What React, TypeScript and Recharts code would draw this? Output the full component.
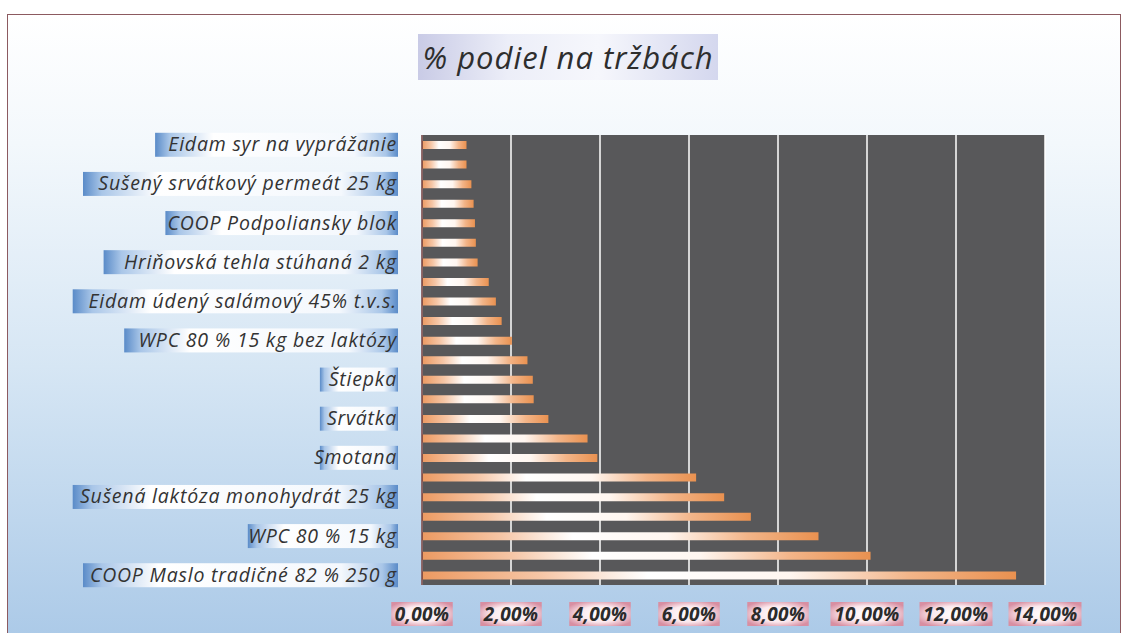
import { BarChart, Bar, XAxis, YAxis, CartesianGrid } from "recharts";

// product names, top to bottom (only every other one is printed on the axis)
const products = [
  "Eidam syr na vyprážanie",
  "Položka 2",
  "Sušený srvátkový permeát 25 kg",
  "Položka 4",
  "COOP Podpoliansky blok",
  "Položka 6",
  "Hriňovská tehla stúhaná 2 kg",
  "Položka 8",
  "Eidam údený salámový 45% t.v.s.",
  "Položka 10",
  "WPC 80 % 15 kg bez laktózy",
  "Položka 12",
  "Štiepka",
  "Položka 14",
  "Srvátka",
  "Položka 16",
  "Smotana",
  "Položka 18",
  "Sušená laktóza monohydrát 25 kg",
  "Položka 20",
  "WPC 80 % 15 kg",
  "Položka 22",
  "COOP Maslo tradičné 82 % 250 g",
];

// % share of sales
const share = [
  1.0, 1.0, 1.11, 1.16, 1.19, 1.21, 1.25, 1.5, 1.66, 1.79, 2.02, 2.37,
  2.49, 2.51, 2.84, 3.72, 3.94, 6.16, 6.79, 7.39, 8.91, 10.08, 13.35,
];

const xTicks = [0, 2, 4, 6, 8, 10, 12, 14];

const data = products.map((name, i) => ({ name, share: share[i] }));

const FONT = "'Open Sans', Lato, sans-serif";

const YTick = (props: any) => {
  const { x, y, payload } = props;
  const label = String(payload.value);
  const w = label.length * 10.3 + 6;
  return (
    <g transform={`translate(${x},${y})`}>
      <rect x={-w - 16} y={-12} width={w} height={24} fill="url(#labelGrad)" />
      <text
        x={-17}
        y={0}
        dy={6.5}
        textAnchor="end"
        fontFamily={FONT}
        fontStyle="italic"
        fontSize={19.5}
        letterSpacing={0.8}
        fill="#333"
      >
        {label}
      </text>
    </g>
  );
};

const XTick = (props: any) => {
  const { x, y, payload } = props;
  const label = payload.value.toFixed(2).replace(".", ",") + "%";
  const w = label.length * 11.5 + 4;
  return (
    <g transform={`translate(${x},${y})`}>
      <rect x={-w / 2} y={9} width={w} height={24} fill="url(#tickGrad)" />
      <text
        x={0}
        y={21}
        dy={7}
        textAnchor="middle"
        fontFamily={FONT}
        fontStyle="italic"
        fontWeight={700}
        fontSize={19}
        letterSpacing={0.3}
        fill="#2b2b2b"
      >
        {label}
      </text>
    </g>
  );
};

export default function App() {
  return (
    <div style={{ position: "absolute", left: 0, top: 0, width: 1128, height: 633, background: "#fff", overflow: "hidden" }}>
      {/* framed panel with the white-to-blue fill */}
      <div
        style={{
          position: "absolute",
          left: 7,
          top: 14,
          width: 1112,
          height: 640,
          border: "1.5px solid #8c5a60",
          background: "linear-gradient(to bottom, #ffffff 0%, #f3f8fc 20%, #d6e6f4 55%, #a9c8e7 100%)",
        }}
      />
      <div style={{ position: "absolute", left: 0, top: 0 }}>
        <BarChart
          width={1128}
          height={633}
          layout="vertical"
          data={data}
          margin={{ top: 135, right: 83, bottom: 8, left: 0 }}
          barCategoryGap={0}
        >
          <defs>
            <linearGradient id="barGrad" x1="0" y1="0" x2="1" y2="0">
              <stop offset="0%" stopColor="#ec9a62" />
              <stop offset="20%" stopColor="#f6c6a6" />
              <stop offset="38%" stopColor="#ffffff" />
              <stop offset="62%" stopColor="#fff6f0" />
              <stop offset="82%" stopColor="#f3b589" />
              <stop offset="100%" stopColor="#e99150" />
            </linearGradient>
            <linearGradient id="labelGrad" x1="0" y1="0" x2="1" y2="0">
              <stop offset="0%" stopColor="#5a8bc8" />
              <stop offset="6%" stopColor="#a9c6e8" />
              <stop offset="24%" stopColor="#ffffff" />
              <stop offset="82%" stopColor="#f4f8fd" />
              <stop offset="95%" stopColor="#a9c6e8" />
              <stop offset="100%" stopColor="#5a8bc8" />
            </linearGradient>
            <radialGradient id="tickGrad" cx="50%" cy="50%" r="60%">
              <stop offset="0%" stopColor="#ffffff" />
              <stop offset="55%" stopColor="#fbe9ee" />
              <stop offset="100%" stopColor="#d88fa2" />
            </radialGradient>
          </defs>
          <CartesianGrid horizontal={false} stroke="#ffffff" strokeWidth={1.5} fill="#58585a" fillOpacity={1} />
          <XAxis
            type="number"
            domain={[0, 14]}
            ticks={xTicks}
            axisLine={false}
            tickLine={false}
            height={40}
            tick={<XTick />}
            interval={0}
          />
          <YAxis
            type="category"
            dataKey="name"
            width={422}
            axisLine={{ stroke: "#6b3a3a", strokeWidth: 1.5 }}
            tickLine={false}
            interval={1}
            tick={<YTick />}
          />
          <Bar dataKey="share" barSize={8} fill="url(#barGrad)" isAnimationActive={false} />
        </BarChart>
      </div>
      {/* chart title */}
      <div
        style={{
          position: "absolute",
          left: 418,
          top: 34,
          width: 300,
          height: 46,
          background: "linear-gradient(to right, #c9cbe6 0%, #eceef8 30%, #f6f7fc 60%, #d4d7ee 100%)",
          display: "flex",
          alignItems: "center",
          justifyContent: "center",
          fontFamily: FONT,
          fontStyle: "italic",
          fontSize: 31,
          letterSpacing: 1,
          color: "#2e2e2e",
        }}
      >
        % podiel na tržbách
      </div>
    </div>
  );
}
